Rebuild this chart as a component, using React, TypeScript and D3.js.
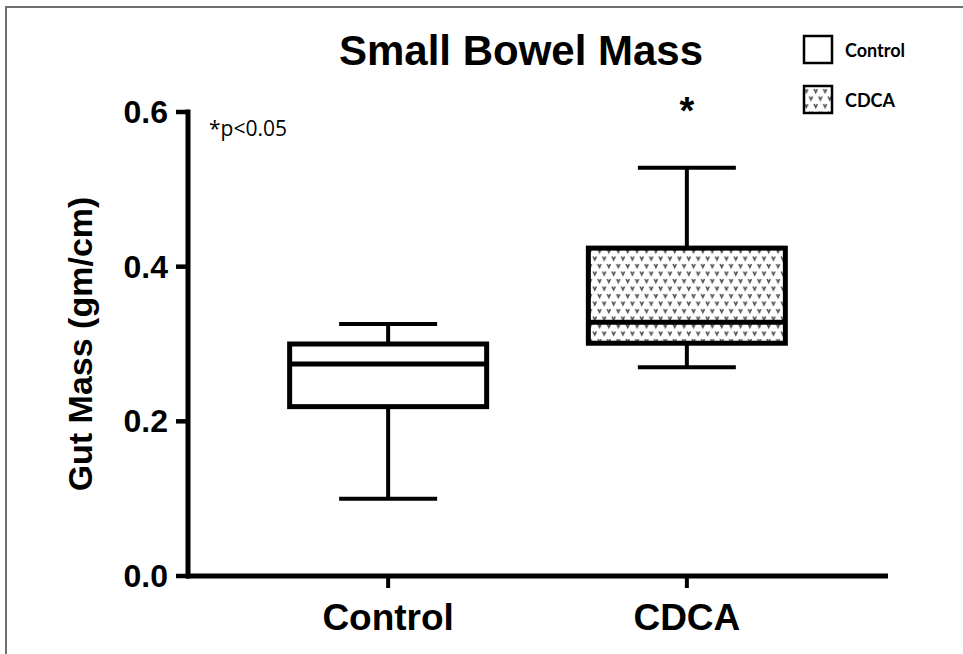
import React from "react";
import * as d3 from "d3";

const categories = ["Control", "CDCA"];
const whiskerLow = [0.1, 0.27];
const q1 = [0.219, 0.301];
const median = [0.274, 0.328];
const q3 = [0.3, 0.424];
const whiskerHigh = [0.326, 0.528];
const yTicks = [0.0, 0.2, 0.4, 0.6];
const legendLabels = ["Control", "CDCA"];

const W = 963;
const H = 654;

export default function App() {
  const y = d3.scaleLinear().domain([0, 0.6]).range([576, 112]);
  const x = d3.scalePoint<string>().domain(categories).range([188, 887]).padding(0.67);
  const boxW = 197;
  const capW = 98;
  const fmt = d3.format(".1f");
  const arial = "'Liberation Sans', Arial, sans-serif";
  const calibri = "Lato, 'Open Sans', sans-serif";

  return (
    <svg width={W} height={H} style={{ position: "absolute", left: 0, top: 0, background: "#fff" }}>
      <defs>
        <pattern id="vpat" width={9.4} height={15} patternUnits="userSpaceOnUse">
          <rect width={9.4} height={15} fill="#fff" />
          <path d="M1,1.5 L2.6,4.8 L4.2,1.5" fill="none" stroke="#555" strokeWidth={1.6} />
          <path d="M5.7,9 L7.3,12.3 L8.9,9" fill="none" stroke="#555" strokeWidth={1.6} />
        </pattern>
      </defs>
      {/* frame */}
      <line x1={5} y1={7} x2={W} y2={7} stroke="#6f6f6f" strokeWidth={2} />
      <line x1={6} y1={7} x2={6} y2={H} stroke="#6f6f6f" strokeWidth={2} />

      {/* title */}
      <text x={521} y={65} textAnchor="middle" fontFamily={arial} fontWeight="bold" fontSize={42} fill="#000">
        Small Bowel Mass
      </text>

      {/* y-axis label */}
      <text
        transform={`translate(92,${344}) rotate(-90)`}
        textAnchor="middle"
        fontFamily={arial}
        fontWeight="bold"
        fontSize={34}
        fill="#000"
      >
        Gut Mass (gm/cm)
      </text>

      {/* y axis */}
      <line x1={188} y1={y(0.6) - 2.5} x2={188} y2={y(0) + 2.5} stroke="#000" strokeWidth={5} />
      {yTicks.map((t) => (
        <g key={t}>
          <line x1={176} x2={188} y1={y(t)} y2={y(t)} stroke="#000" strokeWidth={4.5} />
          <text x={168} y={y(t) + 11} textAnchor="end" fontFamily={arial} fontWeight="bold" fontSize={32} fill="#000">
            {fmt(t)}
          </text>
        </g>
      ))}

      {/* x axis */}
      <line x1={186} x2={888} y1={576} y2={576} stroke="#000" strokeWidth={5} />
      {categories.map((c) => (
        <g key={c}>
          <line x1={x(c)!} x2={x(c)!} y1={576} y2={588} stroke="#000" strokeWidth={4} />
          <text x={x(c)!} y={630} textAnchor="middle" fontFamily={arial} fontWeight="bold" fontSize={37} fill="#000">
            {c}
          </text>
        </g>
      ))}

      {/* boxes */}
      {categories.map((c, i) => {
        const cx = x(c)!;
        return (
          <g key={c}>
            <line x1={cx} x2={cx} y1={y(whiskerHigh[i])} y2={y(q3[i])} stroke="#000" strokeWidth={4} />
            <line x1={cx} x2={cx} y1={y(q1[i])} y2={y(whiskerLow[i])} stroke="#000" strokeWidth={4} />
            <line x1={cx - capW / 2} x2={cx + capW / 2} y1={y(whiskerHigh[i])} y2={y(whiskerHigh[i])} stroke="#000" strokeWidth={4} />
            <line x1={cx - capW / 2} x2={cx + capW / 2} y1={y(whiskerLow[i])} y2={y(whiskerLow[i])} stroke="#000" strokeWidth={4} />
            <rect
              x={cx - boxW / 2}
              y={y(q3[i])}
              width={boxW}
              height={y(q1[i]) - y(q3[i])}
              fill={i === 0 ? "#fff" : "url(#vpat)"}
              stroke="#000"
              strokeWidth={5}
            />
            <line x1={cx - boxW / 2} x2={cx + boxW / 2} y1={y(median[i])} y2={y(median[i])} stroke="#000" strokeWidth={5} />
          </g>
        );
      })}

      {/* significance */}
      <text x={x("CDCA")!} y={124} textAnchor="middle" fontFamily={arial} fontWeight="bold" fontSize={38} fill="#000">
        *
      </text>
      <text x={209} y={136} fontFamily="'Open Sans', Lato, sans-serif" fontSize={21} fill="#000">
        *p&lt;0.05
      </text>

      {/* legend */}
      {legendLabels.map((l, i) => (
        <g key={l} transform={`translate(0,${i * 50})`}>
          <rect x={804} y={36} width={28} height={27} fill={i === 0 ? "#fff" : "url(#vpat)"} stroke="#000" strokeWidth={2.5} />
          <text x={845} y={57} fontFamily={calibri} fontWeight="bold" fontSize={18} fill="#000">
            {l}
          </text>
        </g>
      ))}
    </svg>
  );
}
